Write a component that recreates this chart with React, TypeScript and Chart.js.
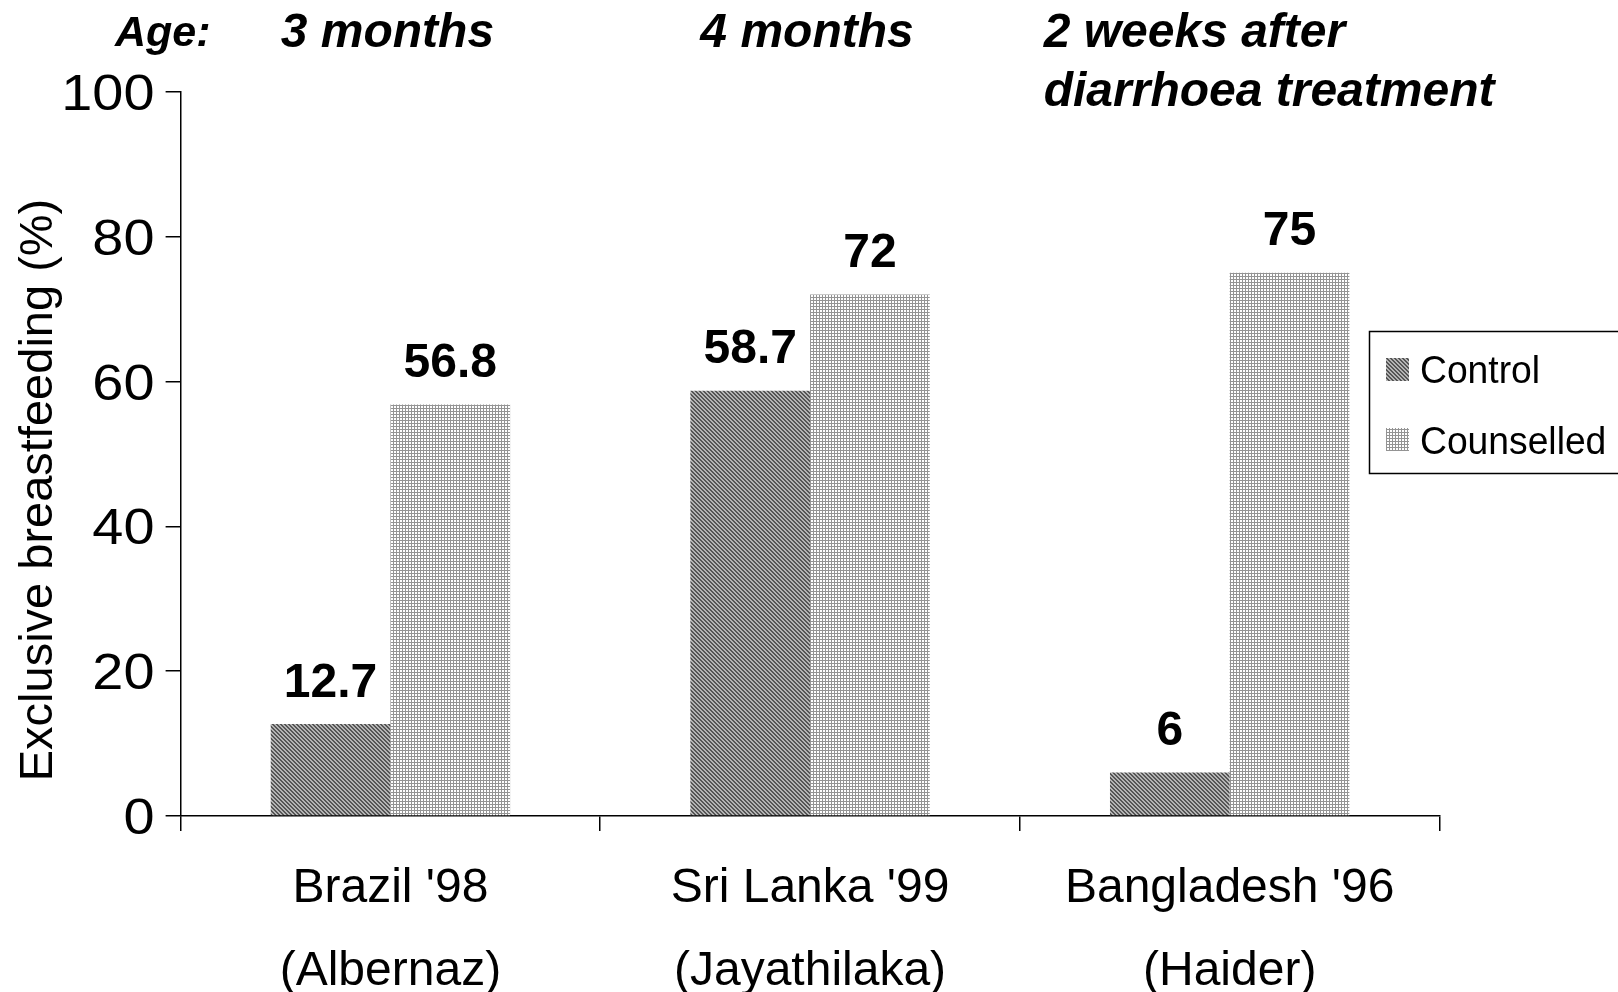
import React, { useEffect, useRef } from "react";
import { Chart, registerables } from "chart.js";

Chart.register(...registerables);

// ---- data ----
const categoryLines: string[][] = [
  ["Brazil '98", "(Albernaz)"],
  ["Sri Lanka '99", "(Jayathilaka)"],
  ["Bangladesh '96", "(Haider)"],
];
const seriesNames = ["Control", "Counselled"];
const controlValues = [12.7, 58.7, 6];
const counselledValues = [56.8, 72, 75];
const ageHeaders: string[][] = [["3 months"], ["4 months"], ["2 weeks after", "diarrhoea treatment"]];
const ageLabel = "Age:";
const yTitle = "Exclusive breastfeeding (%)";
const yMin = 0;
const yMax = 100;
const yStep = 20;

const FAMILY = '"Liberation Sans", Arial, Helvetica, sans-serif';

function makeControlPattern(ctx: CanvasRenderingContext2D) {
  const c = document.createElement("canvas");
  c.width = 4;
  c.height = 4;
  const g = c.getContext("2d")!;
  for (let y = 0; y < 4; y++)
    for (let x = 0; x < 4; x++) {
      const dark = ((x - y + 8) % 4) < 2;
      g.fillStyle = dark ? "#555555" : "#b4b4b4";
      g.fillRect(x, y, 1, 1);
    }
  return ctx.createPattern(c, "repeat")!;
}

function makeCounselledPattern(ctx: CanvasRenderingContext2D) {
  const c = document.createElement("canvas");
  c.width = 3;
  c.height = 3;
  const g = c.getContext("2d")!;
  for (let y = 0; y < 3; y++)
    for (let x = 0; x < 3; x++) {
      const line = x === 0 || y === 0;
      g.fillStyle = line ? "#949494" : "#ffffff";
      g.fillRect(x, y, 1, 1);
    }
  return ctx.createPattern(c, "repeat")!;
}

function txt(
  ctx: CanvasRenderingContext2D,
  s: string,
  x: number,
  y: number,
  font: string,
  sx: number,
  align: CanvasTextAlign
) {
  ctx.save();
  ctx.translate(x, y);
  ctx.scale(sx, 1);
  ctx.font = font;
  ctx.textAlign = align;
  ctx.textBaseline = "alphabetic";
  ctx.fillStyle = "#000";
  ctx.fillText(s, 0, 0);
  ctx.restore();
}

export default function App() {
  const ref = useRef<HTMLCanvasElement>(null);

  useEffect(() => {
    const canvas = ref.current!;
    const ctx = canvas.getContext("2d")!;
    const controlPat = makeControlPattern(ctx);
    const counselledPat = makeCounselledPattern(ctx);
    const patterns = [controlPat, counselledPat];

    const overlay = {
      id: "overlay",
      afterDraw(chart: any) {
        const c: CanvasRenderingContext2D = chart.ctx;
        const xs = chart.scales.x;
        const ys = chart.scales.y;

        // y tick labels
        const tickFont = `50.8px ${FAMILY}`;
        ys.ticks.forEach((t: any) => {
          const py = ys.getPixelForValue(t.value);
          txt(c, String(t.value), 154.5, py + 18.2, tickFont, 1.1, "right");
        });

        // category labels
        const catFont = `48px ${FAMILY}`;
        categoryLines.forEach((lines, i) => {
          const px = xs.getPixelForValue(i);
          lines.forEach((ln, j) => {
            txt(c, ln, px, 902 + j * 83, catFont, 1, "center");
          });
        });

        // y title
        c.save();
        c.translate(52, 490);
        c.rotate(-Math.PI / 2);
        c.font = `47px ${FAMILY}`;
        c.textAlign = "center";
        c.textBaseline = "alphabetic";
        c.fillStyle = "#000";
        c.fillText(yTitle, 0, 0);
        c.restore();

        // data labels
        const labelFont = `bold 48px ${FAMILY}`;
        chart.data.datasets.forEach((ds: any, di: number) => {
          const meta = chart.getDatasetMeta(di);
          meta.data.forEach((el: any, i: number) => {
            txt(c, String(ds.data[i]), el.x, el.y - 27.5, labelFont, 1, "center");
          });
        });

        // headers
        const headFont = `italic bold 48px ${FAMILY}`;
        txt(c, ageLabel, 115, 46, `italic bold 43px ${FAMILY}`, 1, "left");
        ageHeaders.forEach((lines, i) => {
          const px = xs.getPixelForValue(i);
          if (lines.length === 1) {
            txt(c, lines[0], px - 3, 47, headFont, 1, "center");
          } else {
            lines.forEach((ln, j) => {
              txt(c, ln, px - 186, 47 + j * 59, headFont, 1, "left");
            });
          }
        });

        // legend
        c.save();
        c.fillStyle = "#ffffff";
        c.fillRect(1369, 331, 300, 142);
        c.strokeStyle = "#000";
        c.lineWidth = 1.5;
        c.strokeRect(1369.5, 331.5, 300, 142);
        c.restore();
        const legFont = `38px ${FAMILY}`;
        seriesNames.forEach((name, i) => {
          const top = 358 + i * 70;
          c.save();
          c.fillStyle = patterns[i];
          c.fillRect(1386, top, 23, 23);
          c.restore();
          txt(c, name, 1420, 383 + i * 71, legFont, 0.98, "left");
        });
      },
    };

    const chart = new Chart(ctx, {
      type: "bar",
      data: {
        labels: categoryLines.map((l) => l.join(" ")),
        datasets: [
          {
            label: seriesNames[0],
            data: controlValues,
            backgroundColor: controlPat as any,
            borderWidth: 0,
            categoryPercentage: 0.5705,
            barPercentage: 1,
          },
          {
            label: seriesNames[1],
            data: counselledValues,
            backgroundColor: counselledPat as any,
            borderWidth: 0,
            categoryPercentage: 0.5705,
            barPercentage: 1,
          },
        ],
      },
      options: {
        responsive: false,
        devicePixelRatio: 1,
        animation: false,
        layout: { padding: { left: 165.6, right: 178.5, top: 91.7, bottom: 161 } },
        plugins: {
          legend: { display: false },
          tooltip: { enabled: false },
          title: { display: false },
        },
        scales: {
          x: {
            type: "category",
            grid: {
              display: true,
              drawOnChartArea: false,
              drawTicks: true,
              tickLength: 15,
              color: "#000",
              lineWidth: 1.5,
              offset: true,
            },
            border: { display: true, color: "#000", width: 1.5 },
            ticks: { display: false },
            afterFit: (s: any) => {
              s.height = 15;
            },
          },
          y: {
            min: yMin,
            max: yMax,
            grid: {
              display: true,
              drawOnChartArea: false,
              drawTicks: true,
              tickLength: 15,
              color: "#000",
              lineWidth: 1.5,
            },
            border: { display: true, color: "#000", width: 1.5 },
            ticks: { display: false, stepSize: yStep },
            afterFit: (s: any) => {
              s.width = 15;
            },
          },
        },
      },
      plugins: [overlay],
    });

    return () => chart.destroy();
  }, []);

  return (
    <div style={{ position: "fixed", left: 0, top: 0, width: 1618, height: 992, background: "#fff" }}>
      <canvas ref={ref} width={1618} height={992} style={{ display: "block", width: 1618, height: 992 }} />
    </div>
  );
}
